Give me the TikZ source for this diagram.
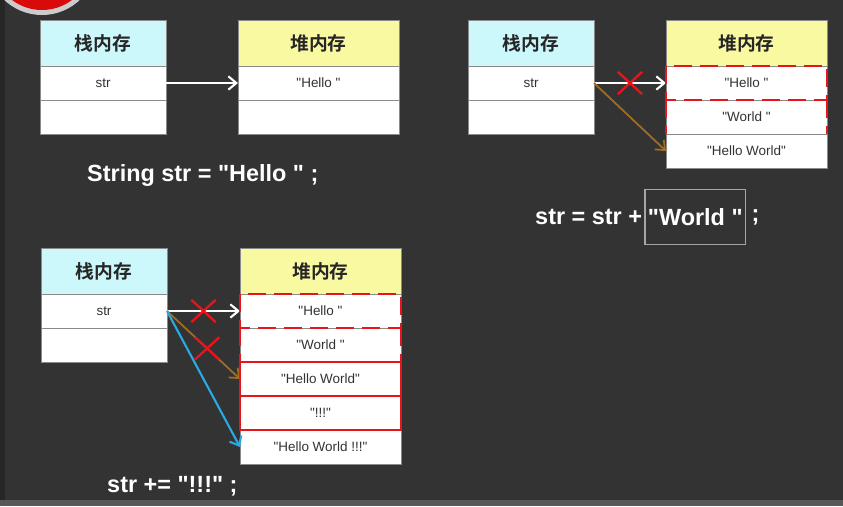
\documentclass[tikz,border=0pt]{standalone}
\usepackage{fontspec}
\setmainfont{Liberation Sans}[Ligatures=TeXOff]
\newfontfamily\cjk{Noto Sans CJK SC}[BoldFont={Noto Sans CJK SC Bold}]
\usetikzlibrary{arrows.meta,positioning,shapes.misc}
\definecolor{slidebg}{HTML}{333333}
\definecolor{slideband}{HTML}{575757}
\definecolor{stackcyan}{HTML}{CCF8FC}
\definecolor{heapyellow}{HTML}{F9F9A2}
\definecolor{cellline}{HTML}{8A8A8A}
\definecolor{celltext}{HTML}{333333}
\definecolor{oldref}{HTML}{A26C22}
\definecolor{newref}{HTML}{2AAAE2}
\definecolor{gcred}{HTML}{E8141C}
\definecolor{logored}{HTML}{D90A0A}

\begin{document}
\begin{tikzpicture}[x=0.3mm, y=-0.3mm,
  head/.style={draw=cellline, line width=0.8pt, outer sep=0pt, inner sep=0pt,
               minimum height=13.8mm, text=black!85,
               font=\cjk\bfseries\fontsize{16}{18}\selectfont},
  stackhead/.style={head, fill=stackcyan, minimum width=37.8mm},
  heaphead/.style={head, fill=heapyellow, minimum width=48.3mm},
  cell/.style={draw=cellline, line width=0.8pt, fill=white, outer sep=0pt,
               inner sep=0pt, minimum height=10.2mm, text=celltext,
               font=\fontsize{11.5}{13}\selectfont},
  stackcell/.style={cell, minimum width=37.8mm},
  heapcell/.style={cell, minimum width=48.3mm},
  ptr/.style={-{Straight Barb[length=2.4mm,width=4mm]}, line width=1.8pt, color=white},
  oldptr/.style={ptr, color=oldref, line width=1.5pt},
  newptr/.style={ptr, color=newref},
  xmark/.style={cross out, draw=gcred, line width=2pt, inner sep=0pt,
                minimum width=6.6mm, minimum height=6mm},
  freed/.style={draw=gcred, line width=2.4pt, dash pattern=on 5.4mm off 2.4mm},
  kept/.style={draw=gcred, line width=2.4pt},
  code/.style={anchor=west, inner sep=0pt, text=white,
               font=\bfseries\fontsize{20}{24}\selectfont},
  wordbox/.style={code, draw=black!35, line width=1.2pt, inner xsep=0.9mm,
                  minimum height=16.5mm},
  node distance=0pt
]
  % slide background
  \useasboundingbox (0,0) rectangle (843,506);
  \fill[slidebg] (0,0) rectangle (843,506);
  \fill[slideband] (0,500) rectangle (843,506);
  \fill[black!85] (0,0) rectangle (5,500);
  \begin{scope}
    \clip (0,0) rectangle (843,506);
    \fill[black!20] (42,-40) circle[radius=55];
    \fill[logored] (42,-40) circle[radius=50];
  \end{scope}

  % String str = "Hello " ;
  \node[stackhead, anchor=north west] (sh1) at (40,20) {栈内存};
  \node[stackcell, below=of sh1] (sv1) {str};
  \node[stackcell, below=of sv1] (sb1) {};
  \node[heaphead, anchor=north west] (hh1) at (238,20) {堆内存};
  \node[heapcell, below=of hh1] (hv1) {"Hello "};
  \node[heapcell, below=of hv1] (hb1) {};
  \draw[ptr] (sv1) -- (hv1);
  \node[code] (cd1) at (87,175) {String str = "Hello " ;};

  % str = str + "World " ;
  \node[stackhead, anchor=north west] (sh2) at (468,20) {栈内存};
  \node[stackcell, below=of sh2] (sv2) {str};
  \node[stackcell, below=of sv2] (sb2) {};
  \node[heaphead, anchor=north west] (hh2) at (666,20) {堆内存};
  \node[heapcell, below=of hh2] (hv2) {"Hello "};
  \node[heapcell, below=of hv2] (hw2) {"World "};
  \node[heapcell, below=of hw2] (hx2) {"Hello World"};
  \draw[ptr] (sv2) -- node[xmark]{} (hv2);
  \draw[oldptr] (sv2.east) -- (hx2.west);
  \draw[freed] (hv2.north west) rectangle (hv2.south east);
  \draw[freed] (hw2.north west) -- (hw2.south west)
               (hw2.north east) -- (hw2.south east);
  \node[code] (cd2) at (535,217) {str = str +};
  \node[wordbox, right=0.6mm of cd2] (wd2) {"World "};
  \node[code, right=1.5mm of wd2] (sc2) {;};

  % str += "!!!" ;
  \node[stackhead, anchor=north west] (sh3) at (41,248) {栈内存};
  \node[stackcell, below=of sh3] (sv3) {str};
  \node[stackcell, below=of sv3] (sb3) {};
  \node[heaphead, anchor=north west] (hh3) at (240,248) {堆内存};
  \node[heapcell, below=of hh3] (hv3) {"Hello "};
  \node[heapcell, below=of hv3] (hw3) {"World "};
  \node[heapcell, below=of hw3] (hx3) {"Hello World"};
  \node[heapcell, below=of hx3] (hy3) {"!!!"};
  \node[heapcell, below=of hy3] (hz3) {"Hello World !!!"};
  \draw[ptr] (sv3) -- node[xmark]{} (hv3);
  \draw[oldptr] (sv3.east) -- node[xmark, pos=0.55]{} (hx3.west);
  \draw[newptr] (sv3.east) -- (hz3.west);
  \draw[freed] (hv3.north west) rectangle (hv3.south east);
  \draw[freed] (hw3.north west) -- (hw3.south west)
               (hw3.north east) -- (hw3.south east);
  \draw[kept] (hx3.north west) rectangle (hy3.south east);
  \draw[kept] (hx3.south west) -- (hx3.south east);
  \node[code] (cd3) at (107,486) {str += "!!!" ;};
\end{tikzpicture}
\end{document}
